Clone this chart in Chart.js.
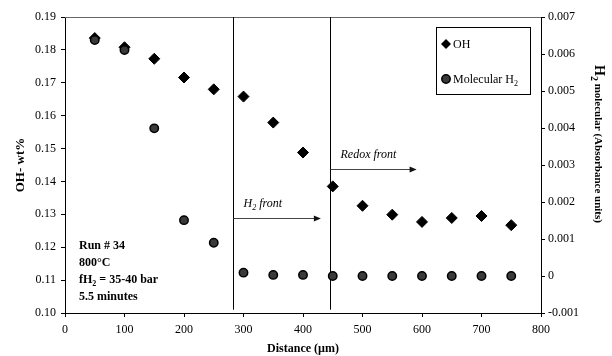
<!DOCTYPE html>
<html>
<head>
<meta charset="utf-8">
<script src="https://cdn.jsdelivr.net/npm/chart.js@4"></script>
<style>
    html, body { margin: 0; padding: 0; background: #fff; }
</style>
</head>
<body>
<canvas id="oh_graph" width="612" height="356"></canvas>
<script>
// Data
const distances = [50, 100, 150, 200, 250, 300, 350, 400, 450, 500, 550, 600, 650, 700, 750];
const ohValues = [0.1836, 0.1808, 0.1773, 0.1716, 0.1680, 0.1658, 0.1579, 0.1488, 0.1385, 0.1326, 0.1299, 0.1277, 0.1289, 0.1295, 0.1267];
const h2Values = [0.00638, 0.00611, 0.00399, 0.00151, 0.00090, 0.00009, 0.00003, 0.00003, 0, 0, 0, 0, 0, 0, 0];

// Axis ranges
const xRange = [0, 800, 100];
const ohRange = [0.10, 0.19, 0.01];
const h2Range = [-0.001, 0.007, 0.001];

// Fronts: vertical line position, arrow end and arrow level (OH axis)
const frontNames = ['H₂ front', 'Redox front'];
const frontPositions = [283, 445];
const frontArrowEnds = [430, 591];
const frontArrowLevels = [0.129, 0.1439];

const runInfo = ['Run # 34', '800°C', 'fH₂ = 35-40 bar', '5.5 minutes'];
const seriesNames = ['OH', 'Molecular H₂'];

const FONT = "'Liberation Serif', 'Times New Roman', serif";

// Writes text, turning ₂ into a smaller lowered 2
function drawText(ctx, text, x, y, size, style) {
    let cx = x;
    for (const seg of text.split(/(₂)/)) {
        if (!seg) continue;
        const sub = seg === '₂';
        const s = sub ? '2' : seg;
        ctx.font = `${style} ${sub ? Math.round(size * 0.7) : size}px ${FONT}`;
        ctx.fillText(s, cx, y + (sub ? size * 0.28 : 0));
        cx += ctx.measureText(s).width;
    }
    return cx;
}

function diamond(ctx, x, y, r) {
    ctx.beginPath();
    ctx.moveTo(x, y - r);
    ctx.lineTo(x + r, y);
    ctx.lineTo(x, y + r);
    ctx.lineTo(x - r, y);
    ctx.closePath();
    ctx.fill();
}

const annotations = {
    id: 'annotations',
    beforeDatasetsDraw(chart) {
        const { ctx, chartArea, scales } = chart;
        ctx.save();
        // top border of the plot box
        ctx.strokeStyle = '#666';
        ctx.lineWidth = 1;
        ctx.beginPath();
        ctx.moveTo(chartArea.left, chartArea.top + 0.5);
        ctx.lineTo(chartArea.right, chartArea.top + 0.5);
        ctx.stroke();

        frontPositions.forEach((pos, i) => {
            const x = Math.round(scales.x.getPixelForValue(pos)) + 0.5;
            ctx.strokeStyle = '#000';
            ctx.beginPath();
            ctx.moveTo(x, scales.y.getPixelForValue(ohRange[1]));
            ctx.lineTo(x, scales.y.getPixelForValue(ohRange[0] + 0.001));
            ctx.stroke();

            const y = Math.round(scales.y.getPixelForValue(frontArrowLevels[i])) + 0.5;
            const xe = scales.x.getPixelForValue(frontArrowEnds[i]);
            ctx.strokeStyle = '#444';
            ctx.beginPath();
            ctx.moveTo(x, y);
            ctx.lineTo(xe - 5, y);
            ctx.stroke();
            ctx.fillStyle = '#111';
            ctx.beginPath();
            ctx.moveTo(xe, y);
            ctx.lineTo(xe - 7, y - 3);
            ctx.lineTo(xe - 7, y + 3);
            ctx.closePath();
            ctx.fill();

            ctx.fillStyle = '#000';
            drawText(ctx, frontNames[i], x + 10, y - 12, 12, 'italic');
        });
        ctx.restore();
    },
    afterDraw(chart) {
        const { ctx, chartArea } = chart;
        ctx.save();
        ctx.fillStyle = '#000';
        ctx.textBaseline = 'alphabetic';

        // run conditions
        runInfo.forEach((line, i) => {
            drawText(ctx, line, chartArea.left + 14, chartArea.bottom - 64 + 17 * i, 12, 'bold');
        });

        // legend box
        const lx = chartArea.right - 105, ly = chartArea.top + 10;
        ctx.strokeStyle = '#000';
        ctx.lineWidth = 1;
        ctx.strokeRect(lx + 0.5, ly + 0.5, 94, 67);
        diamond(ctx, lx + 10, ly + 17, 5);
        drawText(ctx, seriesNames[0], lx + 17, ly + 21, 12, 'normal');
        ctx.fillStyle = '#3a3a3a';
        ctx.strokeStyle = '#000';
        ctx.lineWidth = 1.5;
        ctx.beginPath();
        ctx.arc(lx + 10, ly + 52, 4.2, 0, Math.PI * 2);
        ctx.fill();
        ctx.stroke();
        ctx.fillStyle = '#000';
        drawText(ctx, seriesNames[1], lx + 17, ly + 56, 12, 'normal');

        // right axis title, rotated clockwise
        ctx.translate(595, chartArea.top + 48);
        ctx.rotate(Math.PI / 2);
        const end = drawText(ctx, 'H₂', 0, 0, 14, 'bold');
        drawText(ctx, ' molecular (Absorbance units)', end, 0, 11, 'bold');
        ctx.restore();
    }
};

document.addEventListener('DOMContentLoaded', function () {
    const chartElement = document.getElementById('oh_graph');
    const tickFont = { family: FONT, size: 12 };

    new Chart(chartElement, {
        type: 'scatter',
        data: {
            datasets: [
                {
                    label: seriesNames[0],
                    data: distances.map((d, i) => ({ x: d, y: ohValues[i] })),
                    yAxisID: 'y',
                    pointStyle: 'rectRot',
                    pointRadius: 5.5,
                    backgroundColor: '#000',
                    borderColor: '#000',
                    borderWidth: 1,
                    order: 1,
                },
                {
                    label: seriesNames[1],
                    data: distances.map((d, i) => ({ x: d, y: h2Values[i] })),
                    yAxisID: 'y2',
                    pointStyle: 'circle',
                    pointRadius: 4.2,
                    backgroundColor: '#3a3a3a',
                    borderColor: '#000',
                    borderWidth: 1.5,
                    order: 0,
                },
            ],
        },
        options: {
            responsive: false,
            animation: false,
            devicePixelRatio: 1,
            layout: { padding: { top: 17, left: 0, right: 0, bottom: 0 } },
            scales: {
                x: {
                    type: 'linear',
                    min: xRange[0],
                    max: xRange[1],
                    ticks: { stepSize: xRange[2], padding: 6, color: '#000', font: tickFont },
                    grid: { drawOnChartArea: false, drawTicks: true, tickLength: 4, color: '#000' },
                    border: { color: '#000', width: 1 },
                    title: {
                        display: true,
                        text: 'Distance (µm)',
                        color: '#000',
                        padding: 0,
                        font: { family: FONT, size: 12, weight: 'bold' },
                    },
                    afterFit: (s) => { s.height = 43; },
                },
                y: {
                    type: 'linear',
                    position: 'left',
                    min: ohRange[0],
                    max: ohRange[1],
                    ticks: {
                        stepSize: ohRange[2],
                        padding: 5,
                        color: '#000',
                        font: tickFont,
                        callback: (v) => v.toFixed(2),
                    },
                    grid: { drawOnChartArea: false, drawTicks: true, tickLength: 4, color: '#000' },
                    border: { color: '#000', width: 1 },
                    title: {
                        display: true,
                        text: 'OH- wt%',
                        color: '#000',
                        padding: 13,
                        font: { family: FONT, size: 13, weight: 'bold' },
                    },
                    afterFit: (s) => { s.width = 65; },
                },
                y2: {
                    type: 'linear',
                    position: 'right',
                    min: h2Range[0],
                    max: h2Range[1],
                    ticks: {
                        stepSize: h2Range[2],
                        padding: 3,
                        color: '#000',
                        font: tickFont,
                        callback: (v) => Math.abs(v) < 1e-9 ? '0' : v.toFixed(3),
                    },
                    grid: { drawOnChartArea: false, drawTicks: true, tickLength: 4, color: '#000' },
                    border: { color: '#000', width: 1 },
                    afterFit: (s) => { s.width = 71; },
                },
            },
            plugins: {
                legend: { display: false },
                tooltip: { enabled: false },
            },
        },
        plugins: [annotations],
    });
});
</script>
</body>
</html>
